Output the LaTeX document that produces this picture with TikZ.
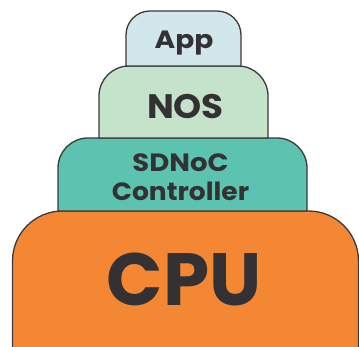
\documentclass[tikz,border=0pt]{standalone}
\usepackage{fontspec}
\setmainfont{Poppins}[BoldFont={* Bold}]
\definecolor{appfill}{HTML}{D1E7EC}
\definecolor{nosfill}{HTML}{C5E3CA}
\definecolor{ctlfill}{HTML}{5CC3B1}
\definecolor{cpufill}{HTML}{F48733}
\definecolor{edge}{HTML}{3A3A3A}
\definecolor{ink}{HTML}{333133}
\tikzset{
  layer/.style={draw=edge, line width=1.3pt, line join=round},
  label/.style={anchor=base, inner sep=0pt, text=ink, font=\bfseries, transform shape},
}
% a block with rounded top corners: #1 left x, #2 right x, #3 bottom y, #4 top y, #5 radius
\newcommand{\topround}[5]{%
  (#1,#3) -- (#1,#4-#5) arc[start angle=180,end angle=90,radius=#5]
  -- (#2-#5,#4) arc[start angle=90,end angle=0,radius=#5] -- (#2,#3) -- cycle}
\begin{document}
\begin{tikzpicture}[x=1pt,y=1pt]
  \useasboundingbox (0,0) rectangle (359,347);
  \clip (0,0) rectangle (359,347);
  % processor at the base
  \path[layer, fill=cpufill] \topround{12.5}{358.5}{-10}{136}{50};
  % controller layer
  \path[layer, fill=ctlfill] \topround{58}{307}{136}{209}{30};
  % network operating system
  \path[layer, fill=nosfill] \topround{99}{268}{209}{281}{30};
  % application on top
  \path[layer, fill=appfill] \topround{126}{241}{281}{336}{24};
  % texts
  \node[label, xscale=1.12, font=\bfseries\fontsize{25}{25}\selectfont] (app) at (184,298.7) {App};
  \node[label, xscale=1.05, font=\bfseries\fontsize{34}{34}\selectfont] (nos) at (185.5,228.7) {NOS};
  \node[label, xscale=1.1, font=\bfseries\fontsize{25}{25}\selectfont] (sdnoc) at (180.5,175.3) {SDNoC};
  \node[label, xscale=1.06, font=\bfseries\fontsize{25}{25}\selectfont] (ctl) at (180.5,146) {Controller};
  \node[label, font=\bfseries\fontsize{74}{74}\selectfont] (cpu) at (184,41) {CPU};
\end{tikzpicture}
\end{document}
